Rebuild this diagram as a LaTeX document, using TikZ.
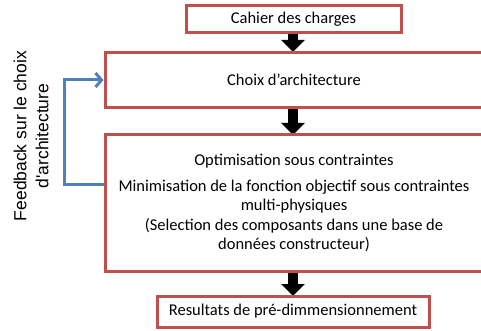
\documentclass[tikz,border=0pt]{standalone}
\usepackage{fontspec}
\setmainfont{Carlito}
\newfontfamily\sidefont{Liberation Sans}
\usetikzlibrary{arrows.meta}
\definecolor{boxred}{RGB}{192,80,77}
\definecolor{loopblue}{RGB}{79,129,189}
\tikzstyle{step box}=[shape=rectangle,
	       draw=boxred,
	       line width=3pt,
	       align=center,
	       inner sep=2pt,
	       font=\fontsize{16.5}{19.5}\selectfont]
\tikzstyle{big arrow}=[draw=black,
	       line width=10pt,
	       -{Triangle[width=23pt,length=12pt]}]

\begin{document}
\begin{tikzpicture}[x=1pt,y=-1pt]

% page frame, same size as the reference picture
\useasboundingbox (0,0) rectangle (481,331);
\clip (0,0) rectangle (481,331);

% block arrows first, boxes are drawn over them
\coordinate (a1) at (293,33);
\coordinate (b1) at (293,52);
\coordinate (a2) at (293,107);
\coordinate (b2) at (293,135);
\coordinate (a3) at (293,271);
\coordinate (b3) at (293,296);
\draw[big arrow] (a1) -- (b1);
\draw[big arrow] (a2) -- (b2);
\draw[big arrow] (a3) -- (b3);

% the four steps, centred on x=293
\node[step box, minimum width=215, minimum height=27] (cdc) at (293.5,19.5) {Cahier des charges};
\node[step box, minimum width=378, minimum height=55] (archi) at (294,80) {Choix d’architecture};
\node[step box, minimum width=378, minimum height=136] (optim) at (294,203)
  {Optimisation sous contraintes\\[6pt]
   Minimisation de la fonction objectif sous contraintes\\
   multi-physiques\\
   (Selection des composants dans une base de\\
   données constructeur)};
\node[step box, minimum width=272, minimum height=31] (result) at (293,311.5) {Resultats de pré-dimmensionnement};

% feedback loop from the optimisation back to the architecture choice
\draw[loopblue, line width=3pt, -{Straight Barb[length=6pt,width=14pt]}]
  ([yshift=19pt]optim.west) -- ++(-39,0) |- (archi.west);
\node[rotate=90, align=center, font=\sidefont\fontsize{17.5}{22}\selectfont] (fb) at (31,136)
  {Feedback sur le choix\\d'architecture};

\end{tikzpicture}
\end{document}
